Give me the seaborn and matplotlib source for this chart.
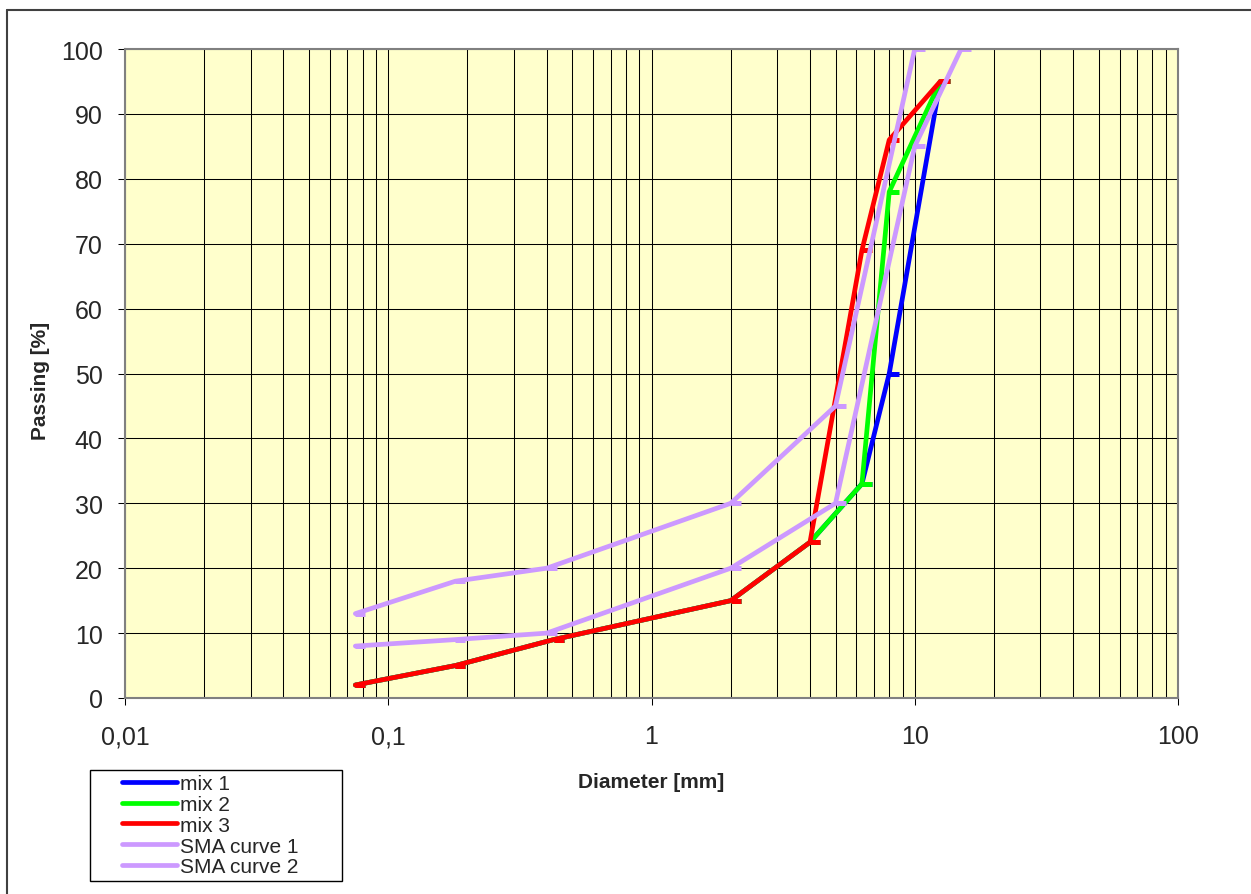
import numpy as np
import pandas as pd
import matplotlib
matplotlib.use("Agg")
import matplotlib.pyplot as plt
from matplotlib.path import Path
from matplotlib.markers import MarkerStyle
from matplotlib.lines import Line2D
from matplotlib.patches import Rectangle
from matplotlib.ticker import LogLocator, NullFormatter
import seaborn as sns

# ---- data ----
sieve_mix = [0.075, 0.18, 0.425, 2.0, 4.0, 6.3, 8.0, 12.5]
mix1 = [2, 5, 9, 15, 24, 33, 50, 95]
mix2 = [2, 5, 9, 15, 24, 33, 78, 95]
mix3 = [2, 5, 9, 15, 24, 69, 86, 95]
sieve_sma1 = [0.075, 0.18, 0.4, 2.0, 5.0, 10.0]
sma1 = [13, 18, 20, 30, 45, 100]
sieve_sma2 = [0.075, 0.18, 0.4, 2.0, 5.0, 10.0, 15.0]
sma2 = [8, 9, 10, 20, 30, 85, 100]

series_names = ["mix 1", "mix 2", "mix 3", "SMA curve 1", "SMA curve 2"]
colors = ["#0000FF", "#00FF00", "#FF0000", "#CC99FF", "#CC99FF"]
x_ticks = [0.01, 0.1, 1, 10, 100]
x_ticklabels = ["0,01", "0,1", "1", "10", "100"]
y_ticks = list(range(0, 101, 10))

xs_all = [sieve_mix, sieve_mix, sieve_mix, sieve_sma1, sieve_sma2]
ys_all = [mix1, mix2, mix3, sma1, sma2]
frames = []
for name, xs, ys in zip(series_names, xs_all, ys_all):
    frames.append(pd.DataFrame({"diameter": xs, "passing": ys, "series": name}))
df = pd.concat(frames, ignore_index=True)

sns.set_style("white")
plt.rcParams["font.family"] = ["Liberation Sans", "DejaVu Sans"]

W, H = 1251, 895
fig = plt.figure(figsize=(W / 100, H / 100), dpi=100)
ax = fig.add_axes([125 / W, 1 - 699 / H, 1053 / W, 649 / H])
ax.set_facecolor("#FFFFCC")
ax.set_xscale("log")

dash = MarkerStyle(Path([(0, 0), (1, 0)], [Path.MOVETO, Path.LINETO]))

for name, color in zip(series_names, colors):
    sub = df[df["series"] == name]
    sns.lineplot(data=sub, x="diameter", y="passing", ax=ax, color=color,
                 lw=3.4, sort=False, estimator=None, marker=dash,
                 markersize=15, mew=3.6, mec=color, mfc=color, legend=False)

ax.set_xlim(0.01, 100)
ax.set_ylim(0, 100)
ax.set_xticks(x_ticks, x_ticklabels)
ax.set_yticks(y_ticks)
ax.xaxis.set_minor_locator(LogLocator(base=10, subs=range(2, 10)))
ax.xaxis.set_minor_formatter(NullFormatter())
ax.grid(which="both", axis="x", color="black", lw=0.75)
ax.grid(which="major", axis="y", color="black", lw=0.75)
ax.set_axisbelow(True)

ax.tick_params(which="major", bottom=True, left=True, direction="out",
               length=5, width=0.75, color="black", labelsize=18)
ax.tick_params(axis="x", which="major", pad=14)
ax.tick_params(axis="y", which="major", pad=11)
ax.tick_params(axis="x", which="minor", length=0)

for s in ax.spines.values():
    s.set_visible(True)
    s.set_color("#808080")
    s.set_linewidth(1.5)

ax.set_xlabel("Diameter [mm]", fontsize=15, fontweight="bold")
ax.xaxis.set_label_coords(0.5, (699 - 773) / 649)
ax.set_ylabel("Passing [%]", fontsize=15, fontweight="bold")
ax.yaxis.set_label_coords((50 - 125) / 1053, (699 - 381) / 649)

handles = [Line2D([], [], color=c, lw=3.4) for c in colors]
ax.legend(handles, series_names, loc="upper left",
          bbox_to_anchor=(122 / W, 1 - 775 / H), bbox_transform=fig.transFigure,
          frameon=False, fontsize=15, borderpad=0, borderaxespad=0,
          handlelength=2.64, handletextpad=0.15, labelspacing=0.09)

fig.add_artist(Rectangle((90 / W, 1 - 882 / H), 252 / W, 111 / H,
                         transform=fig.transFigure, fill=False, ec="black", lw=1))
fig.add_artist(Line2D([7 / W, 7 / W], [0, 1 - 11 / H], transform=fig.transFigure,
                      color="#404040", lw=1.5))
fig.add_artist(Line2D([7 / W, 1], [1 - 11 / H, 1 - 11 / H], transform=fig.transFigure,
                      color="#404040", lw=1.5))

fig.savefig("out.png", dpi=100)
